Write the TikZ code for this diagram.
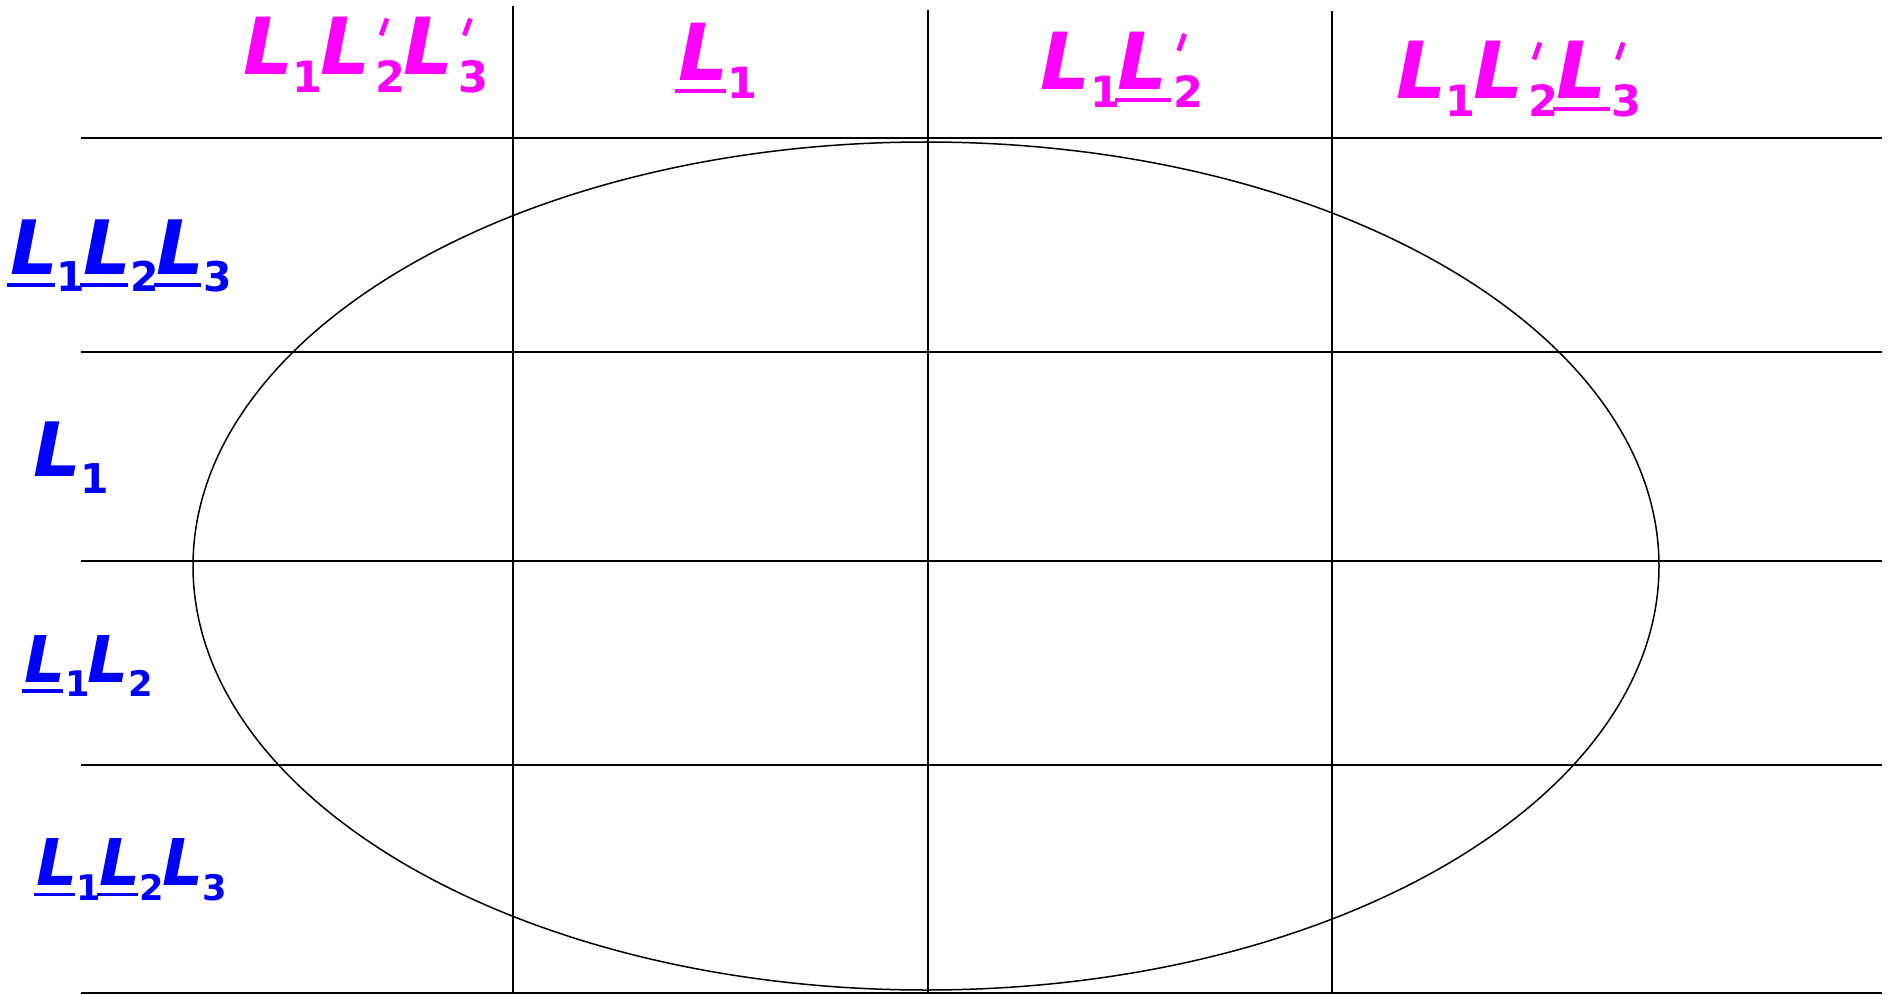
\documentclass[tikz,border=0pt]{standalone}
\usepackage{fontspec}
\usetikzlibrary{shapes.geometric}
\setmainfont{DejaVu Sans}
\newcommand\Lb{{\bfseries\itshape L}}
\newcommand\SubD[1]{\kern-1pt\raisebox{-17pt}{\fontsize{41}{41}\selectfont\bfseries #1}\kern-2pt}
\newcommand\uL{\setbox0\hbox{\Lb}\rlap{\kern-3pt\rule[-12pt]{\dimexpr\wd0+0pt\relax}{4pt}}\box0}
\newcommand\uLp{\setbox0\hbox{\Lb}\rlap{\kern-3pt\rule[-12pt]{\dimexpr\wd0+6pt\relax}{4pt}}\box0}
\newcommand\PrM{\kern5pt\rlap{\kern3pt\raisebox{38pt}{\rotatebox{-20}{\rule{4.5pt}{17pt}}}}\kern1pt}
\newcommand\Ls[1]{\Lb\SubD{#1}}
\newcommand\uLs[1]{\uL\SubD{#1}}
\newcommand\Lps[1]{\Lb\PrM\SubD{#1}}
\newcommand\uLps[1]{\uLp\PrM\SubD{#1}}
\definecolor{rowblue}{RGB}{0,0,255}
\definecolor{colmag}{RGB}{255,0,255}
\tikzset{
  hline/.style={line width=1.8pt},
  vline/.style={line width=1.2pt},
  oval/.style={line width=1.5pt},
  rowlab/.style={inner sep=0pt, text=rowblue, font=\fontsize{75}{80}\selectfont},
  collab/.style={inner sep=0pt, text=colmag, font=\fontsize{75}{80}\selectfont},
}
\begin{document}
\begin{tikzpicture}[x=1pt,y=-1pt]
\useasboundingbox (0,0) rectangle (1888,995);
% horizontal lines
\foreach \yy/\nm in {138/h0,352/h1,561/h2,765/h3,993/h4}{
  \coordinate (\nm l) at (81,\yy);
  \coordinate (\nm r) at (1882,\yy);
  \draw[hline] (\nm l) -- (\nm r);
}
% vertical lines
\foreach \xx/\yt/\nm in {513/6/v1,928/10/v2,1332/11/v3}{
  \coordinate (\nm t) at (\xx,\yt);
  \coordinate (\nm b) at (\xx,993);
  \draw[vline] (\nm t) -- (\nm b);
}
% ellipse
\node[draw, oval, ellipse, minimum width=1466pt, minimum height=848pt, inner sep=0pt] (E) at (926,566) {};
% column labels
\node[collab] (c0) at (365,55) {\scalebox{1.05}{\Ls{1}\Lps{2}\Lps{3}}};
\node[collab] (c1) at (717,61) {\scalebox{1.05}{\uLs{1}}};
\node[collab] (c2) at (1121,70) {\scalebox{1.05}{\Ls{1}\uLps{2}}};
\node[collab] (c3) at (1518,79) {\scalebox{1.05}{\Ls{1}\Lps{2}\uLps{3}}};
% row labels
\node[rowlab] (r1) at (120,256) {\uLs{1}\uLs{2}\uLs{3}};
\node[rowlab] (r2) at (70,458) {\Ls{1}};
\node[rowlab] (r3) at (88,666) {\scalebox{0.86}{\uLs{1}\Ls{2}}};
\node[rowlab] (r4) at (131,870) {\scalebox{0.86}{\uLs{1}\uLs{2}\Ls{3}}};
\end{tikzpicture}
\end{document}
